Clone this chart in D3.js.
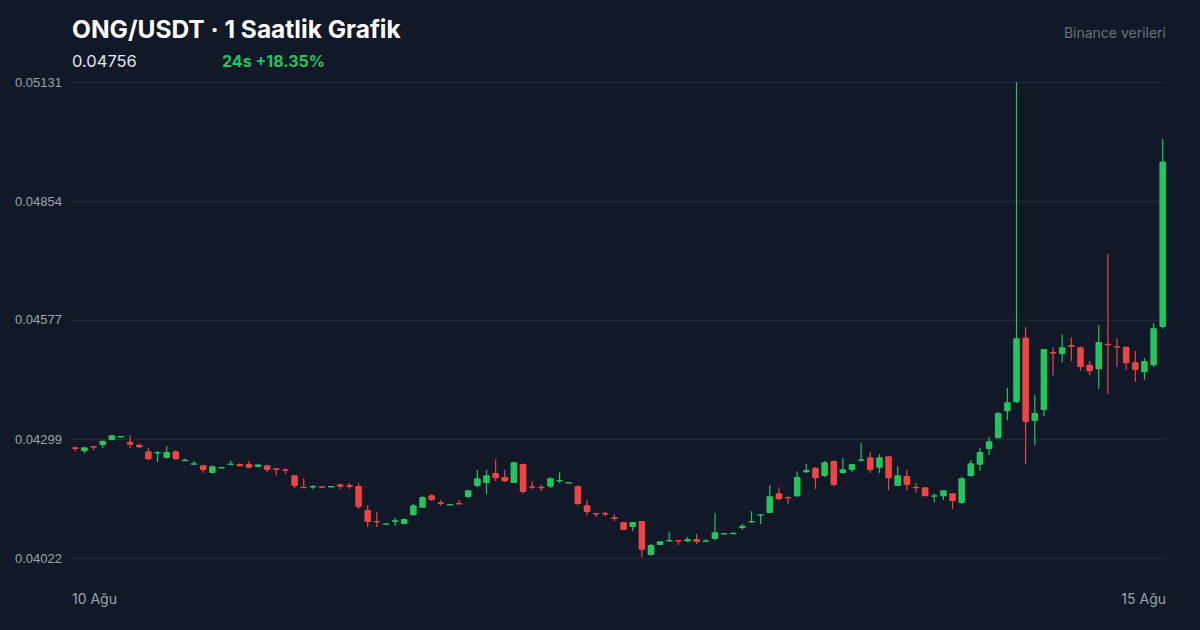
<!DOCTYPE html>
<html><head><meta charset="utf-8">
<script src="https://cdn.jsdelivr.net/npm/d3@7"></script>
<style>body{margin:0;background:#111827;}svg{display:block;font-family:Inter,"Noto Sans",sans-serif;}</style>
</head><body><svg id="c" width="1200" height="630"></svg>
<script>
const opens=[0.04280,0.04271,0.04283,0.04285,0.04297,0.04304,0.04293,0.04286,0.04271,0.04266,
0.04255,0.04271,0.04249,0.04239,0.04238,0.04220,0.04232,0.04239,0.04241,0.04241,
0.04234,0.04238,0.04231,0.04229,0.04215,0.04188,0.04188,0.04189,0.04189,0.04194,
0.04192,0.04190,0.04134,0.04108,0.04101,0.04106,0.04101,0.04122,0.04139,0.04168,
0.04152,0.04147,0.04150,0.04164,0.04190,0.04197,0.04220,0.04211,0.04197,0.04241,
0.04189,0.04188,0.04188,0.04201,0.04197,0.04190,0.04145,0.04127,0.04127,0.04117,
0.04106,0.04094,0.04108,0.04029,0.04052,0.04061,0.04064,0.04061,0.04066,0.04061,
0.04066,0.04078,0.04079,0.04092,0.04106,0.04122,0.04127,0.04173,0.04164,0.04166,
0.04222,0.04232,0.04213,0.04248,0.04220,0.04227,0.04250,0.04257,0.04232,0.04259,
0.04190,0.04213,0.04188,0.04187,0.04166,0.04166,0.04173,0.04150,0.04213,0.04239,
0.04276,0.04301,0.04364,0.04385,0.04536,0.04341,0.04367,0.04502,0.04497,0.04518,
0.04513,0.04472,0.04462,0.04521,0.04516,0.04514,0.04478,0.04455,0.04471,0.04560];
const closes=[0.04276,0.04280,0.04281,0.04295,0.04308,0.04306,0.04286,0.04280,0.04252,0.04269,
0.04269,0.04252,0.04251,0.04243,0.04227,0.04236,0.04234,0.04242,0.04236,0.04232,
0.04240,0.04227,0.04227,0.04225,0.04190,0.04187,0.04190,0.04187,0.04190,0.04188,
0.04188,0.04141,0.04106,0.04106,0.04103,0.04110,0.04113,0.04145,0.04164,0.04157,
0.04148,0.04148,0.04148,0.04180,0.04208,0.04215,0.04208,0.04201,0.04245,0.04176,
0.04186,0.04185,0.04208,0.04204,0.04199,0.04148,0.04129,0.04124,0.04124,0.04113,
0.04087,0.04106,0.04041,0.04052,0.04061,0.04064,0.04061,0.04066,0.04059,0.04063,
0.04082,0.04080,0.04081,0.04097,0.04108,0.04124,0.04166,0.04159,0.04162,0.04211,
0.04227,0.04208,0.04245,0.04192,0.04229,0.04241,0.04252,0.04227,0.04257,0.04208,
0.04215,0.04192,0.04186,0.04166,0.04168,0.04180,0.04155,0.04208,0.04243,0.04269,
0.04294,0.04360,0.04385,0.04534,0.04339,0.04360,0.04509,0.04500,0.04513,0.04514,
0.04467,0.04457,0.04525,0.04518,0.04513,0.04476,0.04460,0.04481,0.04557,0.04946];
const highs=[0.04281,0.04280,0.04283,0.04295,0.04309,0.04306,0.04308,0.04288,0.04278,0.04271,
0.04283,0.04273,0.04254,0.04248,0.04239,0.04238,0.04234,0.04250,0.04242,0.04248,
0.04242,0.04239,0.04231,0.04231,0.04216,0.04208,0.04192,0.04190,0.04190,0.04195,
0.04197,0.04197,0.04145,0.04129,0.04103,0.04115,0.04114,0.04148,0.04166,0.04171,
0.04157,0.04148,0.04157,0.04181,0.04227,0.04227,0.04252,0.04227,0.04246,0.04243,
0.04201,0.04192,0.04210,0.04222,0.04199,0.04192,0.04157,0.04127,0.04129,0.04124,
0.04106,0.04106,0.04108,0.04055,0.04061,0.04083,0.04064,0.04071,0.04078,0.04066,
0.04127,0.04080,0.04081,0.04101,0.04131,0.04124,0.04192,0.04187,0.04166,0.04224,
0.04241,0.04234,0.04248,0.04250,0.04255,0.04241,0.04290,0.04269,0.04264,0.04259,
0.04236,0.04227,0.04197,0.04187,0.04173,0.04180,0.04173,0.04211,0.04250,0.04278,
0.04304,0.04362,0.04418,0.05131,0.04560,0.04402,0.04509,0.04513,0.04543,0.04536,
0.04515,0.04481,0.04565,0.04730,0.04534,0.04514,0.04504,0.04488,0.04569,0.04998];
const lows=[0.04271,0.04266,0.04273,0.04278,0.04296,0.04304,0.04278,0.04278,0.04250,0.04246,
0.04254,0.04251,0.04248,0.04238,0.04220,0.04219,0.04232,0.04239,0.04235,0.04231,
0.04234,0.04222,0.04215,0.04218,0.04185,0.04185,0.04183,0.04185,0.04189,0.04183,
0.04183,0.04136,0.04094,0.04094,0.04101,0.04097,0.04100,0.04120,0.04139,0.04155,
0.04143,0.04147,0.04148,0.04162,0.04187,0.04171,0.04201,0.04199,0.04197,0.04171,
0.04183,0.04178,0.04185,0.04197,0.04197,0.04145,0.04122,0.04117,0.04120,0.04108,
0.04087,0.04085,0.04024,0.04027,0.04052,0.04061,0.04052,0.04059,0.04054,0.04061,
0.04064,0.04078,0.04079,0.04087,0.04104,0.04101,0.04127,0.04157,0.04148,0.04164,
0.04220,0.04183,0.04211,0.04190,0.04218,0.04222,0.04246,0.04220,0.04220,0.04180,
0.04190,0.04180,0.04174,0.04166,0.04152,0.04157,0.04136,0.04148,0.04211,0.04225,
0.04262,0.04301,0.04343,0.04383,0.04241,0.04285,0.04353,0.04448,0.04478,0.04481,
0.04458,0.04448,0.04416,0.04404,0.04467,0.04460,0.04432,0.04437,0.04467,0.04556];
const yTicks=[0.04022,0.04299,0.04577,0.04854,0.05131];
const xLabels=["10 Ağu","15 Ağu"];

const svg=d3.select("#c");
svg.append("rect").attr("width",1200).attr("height",630).attr("fill","#111827");
const idx=d3.range(opens.length);
const x=d3.scaleBand().domain(idx).range([72,1166]).paddingInner(0.28).paddingOuter(0.0);
const y=d3.scaleLinear().domain([0.04022,0.05131]).range([558,82]);

const yAxis=svg.append("g").attr("transform","translate(72,0)")
 .call(d3.axisLeft(y).tickValues(yTicks).tickSize(-1094).tickFormat(d3.format(".5f")));
yAxis.select(".domain").remove();
yAxis.selectAll(".tick line").attr("stroke","#1f2937").attr("stroke-width",1.5);
yAxis.selectAll(".tick text").attr("fill","#9ca3af").attr("font-size",13).attr("text-anchor","start").attr("x",-57);

const up=i=>closes[i]>=opens[i];
const col=i=>up(i)?"#22c55e":"#ef4444";
const g=svg.append("g");
g.selectAll("line.w").data(idx).join("line")
 .attr("x1",i=>x(i)+x.bandwidth()/2).attr("x2",i=>x(i)+x.bandwidth()/2)
 .attr("y1",i=>y(highs[i])).attr("y2",i=>y(lows[i])).attr("stroke",col).attr("stroke-width",1.2);
g.selectAll("rect.b").data(idx).join("rect")
 .attr("x",i=>x(i)).attr("width",x.bandwidth())
 .attr("y",i=>y(Math.max(opens[i],closes[i])))
 .attr("height",i=>Math.max(1.5,Math.abs(y(opens[i])-y(closes[i]))))
 .attr("fill",col).attr("rx",1);

svg.append("text").attr("x",72).attr("y",38).attr("fill","#ffffff").attr("font-size",24.5).attr("font-weight",700).text("ONG/USDT · 1 Saatlik Grafik");
svg.append("text").attr("x",72).attr("y",67).attr("fill","#e5e7eb").attr("font-size",16.5).text("0.04756");
svg.append("text").attr("x",222).attr("y",67).attr("fill","#22c55e").attr("font-size",16).attr("font-weight",700).text("24s +18.35%");
svg.append("text").attr("x",1166).attr("y",38).attr("fill","#6b7280").attr("font-size",14).attr("text-anchor","end").text("Binance verileri");
svg.append("text").attr("x",72).attr("y",604).attr("fill","#9ca3af").attr("font-size",14).text(xLabels[0]);
svg.append("text").attr("x",1166).attr("y",604).attr("fill","#9ca3af").attr("font-size",14).attr("text-anchor","end").text(xLabels[1]);
</script></body></html>
